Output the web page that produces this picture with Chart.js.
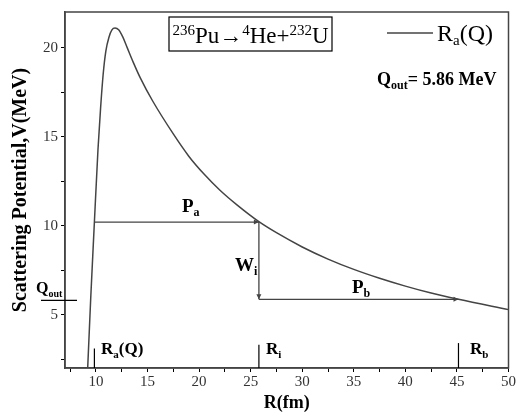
<!DOCTYPE html>
<html>
<head>
<meta charset="utf-8">
<script src="https://cdn.jsdelivr.net/npm/chart.js@4.4.1/dist/chart.umd.min.js"></script>
<style>
  html, body { margin: 0; padding: 0; background: #fff; }
  #wrap { width: 517px; height: 414px; }
</style>
</head>
<body>
<div id="wrap"><canvas id="chart" width="517" height="414"></canvas></div>
<script>
// scattering potential curve R_a(Q)
const radius = [9.2, 9.5, 9.85, 10.2, 10.45, 10.7, 10.96, 11.27, 11.55, 11.85, 12.2, 12.6, 13.03, 13.6, 14.3, 15.5, 17.5, 19, 20.5, 22, 23.7, 25.8, 27.5, 30, 32.5, 35, 37.5, 40, 42.5, 45.15, 50];
const potential = [2.0, 6.0, 10.2, 14.3, 16.6, 18.5, 19.8, 20.6, 21.0, 21.1, 21.0, 20.6, 20.0, 19.2, 18.3, 17.0, 15.15, 13.9, 12.88, 12.0, 11.15, 10.22, 9.6, 8.8, 8.12, 7.54, 7.04, 6.6, 6.21, 5.86, 5.28];

// axis ticks (labels only on multiples of 5)
const xTicks = [7.5, 10, 12.5, 15, 17.5, 20, 22.5, 25, 27.5, 30, 32.5, 35, 37.5, 40, 42.5, 45, 47.5, 50];
const yTicks = [2.5, 5, 7.5, 10, 12.5, 15, 17.5, 20];

// turning points and energies
const rA = 9.85;
const rI = 25.8;
const rB = 45.15;
const vI = 10.2;
const qOut = 5.86;

const serif = '"Liberation Serif", "Times New Roman", serif';
const ink = "#444";

function font(size, bold) {
  return (bold ? "bold " : "") + size + "px " + serif;
}

// draw text made of runs (normal / sub / superscript pieces)
function drawRuns(ctx, x, y, runs) {
  let cx = x;
  runs.forEach((r) => {
    ctx.font = font(r.size, r.bold);
    ctx.fillText(r.t, cx, y + (r.dy || 0));
    cx += ctx.measureText(r.t).width;
  });
  return cx - x;
}

function measureRuns(ctx, runs) {
  let w = 0;
  runs.forEach((r) => {
    ctx.font = font(r.size, r.bold);
    w += ctx.measureText(r.t).width;
  });
  return w;
}

function arrowHead(ctx, x, y, dir) {
  const s = 5;
  ctx.beginPath();
  if (dir === "right") {
    ctx.moveTo(x, y);
    ctx.lineTo(x - s, y - 2.5);
    ctx.lineTo(x - s, y + 2.5);
  } else {
    ctx.moveTo(x, y);
    ctx.lineTo(x - 2.5, y - s);
    ctx.lineTo(x + 2.5, y - s);
  }
  ctx.closePath();
  ctx.fill();
}

const decorations = {
  id: "decorations",
  afterDraw(chart) {
    const { ctx, chartArea: a, scales } = chart;
    const xs = scales.x;
    const ys = scales.y;
    ctx.save();

    // frame
    ctx.strokeStyle = ink;
    ctx.lineWidth = 1.5;
    ctx.strokeRect(a.left, a.top, a.right - a.left, a.bottom - a.top);

    // arrows P_a, W_i, P_b
    ctx.lineWidth = 1.3;
    ctx.fillStyle = ink;
    const xa = xs.getPixelForValue(rA);
    const xi = xs.getPixelForValue(rI);
    const xb = xs.getPixelForValue(rB);
    const yi = ys.getPixelForValue(vI);
    const yq = ys.getPixelForValue(qOut);
    ctx.beginPath();
    ctx.moveTo(xa, yi); ctx.lineTo(xi, yi);
    ctx.moveTo(xi, yi); ctx.lineTo(xi, yq);
    ctx.moveTo(xi, yq); ctx.lineTo(xb, yq);
    ctx.stroke();
    arrowHead(ctx, xi, yi, "right");
    arrowHead(ctx, xi, yq, "down");
    arrowHead(ctx, xb, yq, "right");

    // turning point markers
    ctx.strokeStyle = "#000";
    ctx.lineWidth = 1.2;
    [[rA, 3.1], [rI, 3.3], [rB, 3.4]].forEach(([r, top]) => {
      const px = xs.getPixelForValue(r);
      ctx.beginPath();
      ctx.moveTo(px, a.bottom);
      ctx.lineTo(px, ys.getPixelForValue(top));
      ctx.stroke();
    });

    // Q_out mark on the left
    ctx.beginPath();
    ctx.moveTo(a.left - 24, yq + 1);
    ctx.lineTo(a.left + 12, yq + 1);
    ctx.stroke();

    ctx.fillStyle = "#000";
    ctx.textBaseline = "alphabetic";
    ctx.textAlign = "left";

    drawRuns(ctx, 36, yq - 6, [
      { t: "Q", size: 16, bold: true },
      { t: "out", size: 10, bold: true, dy: 4 }
    ]);

    // labels on the arrows
    drawRuns(ctx, 182, yi - 10, [
      { t: "P", size: 19, bold: true },
      { t: "a", size: 12, bold: true, dy: 4 }
    ]);
    drawRuns(ctx, 235, 271, [
      { t: "W", size: 19, bold: true },
      { t: "i", size: 12, bold: true, dy: 4 }
    ]);
    drawRuns(ctx, 352, yq - 6, [
      { t: "P", size: 19, bold: true },
      { t: "b", size: 12, bold: true, dy: 4 }
    ]);

    // marker labels
    drawRuns(ctx, 101, 354, [
      { t: "R", size: 17, bold: true },
      { t: "a", size: 11, bold: true, dy: 4 },
      { t: "(Q)", size: 17, bold: true }
    ]);
    drawRuns(ctx, 266, 354, [
      { t: "R", size: 17, bold: true },
      { t: "i", size: 11, bold: true, dy: 4 }
    ]);
    drawRuns(ctx, 470, 354, [
      { t: "R", size: 17, bold: true },
      { t: "b", size: 11, bold: true, dy: 4 }
    ]);

    // reaction box
    const reaction = [
      { t: "236", size: 15, dy: -8 },
      { t: "Pu\u2192", size: 23 },
      { t: "4", size: 15, dy: -8 },
      { t: "He+", size: 23 },
      { t: "232", size: 15, dy: -8 },
      { t: "U", size: 23 }
    ];
    const rw = measureRuns(ctx, reaction);
    const boxL = 169, boxR = 332;
    drawRuns(ctx, (boxL + boxR - rw) / 2, 43, reaction);
    ctx.strokeStyle = "#000";
    ctx.lineWidth = 1.2;
    ctx.strokeRect(boxL, 17, boxR - boxL, 34);

    // legend
    ctx.strokeStyle = ink;
    ctx.lineWidth = 1.3;
    ctx.beginPath();
    ctx.moveTo(387, 33);
    ctx.lineTo(433, 33);
    ctx.stroke();
    drawRuns(ctx, 437, 41, [
      { t: "R", size: 24 },
      { t: "a", size: 15, dy: 4 },
      { t: "(Q)", size: 24 }
    ]);

    // Q_out value
    drawRuns(ctx, 377, 85, [
      { t: "Q", size: 18, bold: true },
      { t: "out", size: 12, bold: true, dy: 4 },
      { t: "= 5.86 MeV", size: 18, bold: true }
    ]);

    ctx.restore();
  }
};

const setTicks = (values) => (scale) => {
  scale.ticks = values.map((v) => ({ value: v }));
};
const fiveOnly = (v) => (Math.abs(v % 5) < 1e-6 ? String(v) : "");

new Chart(document.getElementById("chart"), {
  type: "line",
  data: {
    datasets: [
      {
        label: "Ra(Q)",
        data: radius.map((r, i) => ({ x: r, y: potential[i] })),
        borderColor: ink,
        borderWidth: 1.5,
        pointRadius: 0,
        cubicInterpolationMode: "monotone",
        fill: false
      }
    ]
  },
  options: {
    responsive: false,
    animation: false,
    layout: { padding: { top: 7, right: 4, left: 0, bottom: 0 } },
    plugins: {
      legend: { display: false },
      tooltip: { enabled: false }
    },
    scales: {
      x: {
        type: "linear",
        min: 7,
        max: 50,
        afterFit: (s) => { s.height = 46; },
        afterBuildTicks: setTicks(xTicks),
        ticks: {
          autoSkip: false,
          maxRotation: 0,
          padding: 1,
          color: "#333",
          font: { family: serif, size: 15 },
          callback: fiveOnly
        },
        grid: { drawOnChartArea: false, tickLength: 4, color: "#000" },
        border: { color: ink, width: 1.5 },
        title: {
          display: true,
          text: "R(fm)",
          color: "#000",
          padding: 0,
          font: { family: serif, size: 18, weight: "bold" }
        }
      },
      y: {
        min: 2,
        max: 22,
        afterFit: (s) => { s.width = 65; },
        afterBuildTicks: setTicks(yTicks),
        ticks: {
          autoSkip: false,
          padding: 3,
          color: "#333",
          font: { family: serif, size: 15 },
          callback: fiveOnly
        },
        grid: { drawOnChartArea: false, tickLength: 4, color: "#000" },
        border: { color: ink, width: 1.5 },
        title: {
          display: true,
          text: "Scattering Potential,V(MeV)",
          color: "#000",
          padding: { top: 9, bottom: 0 },
          font: { family: serif, size: 20, weight: "bold" }
        }
      }
    }
  },
  plugins: [decorations]
});
</script>
</body>
</html>
